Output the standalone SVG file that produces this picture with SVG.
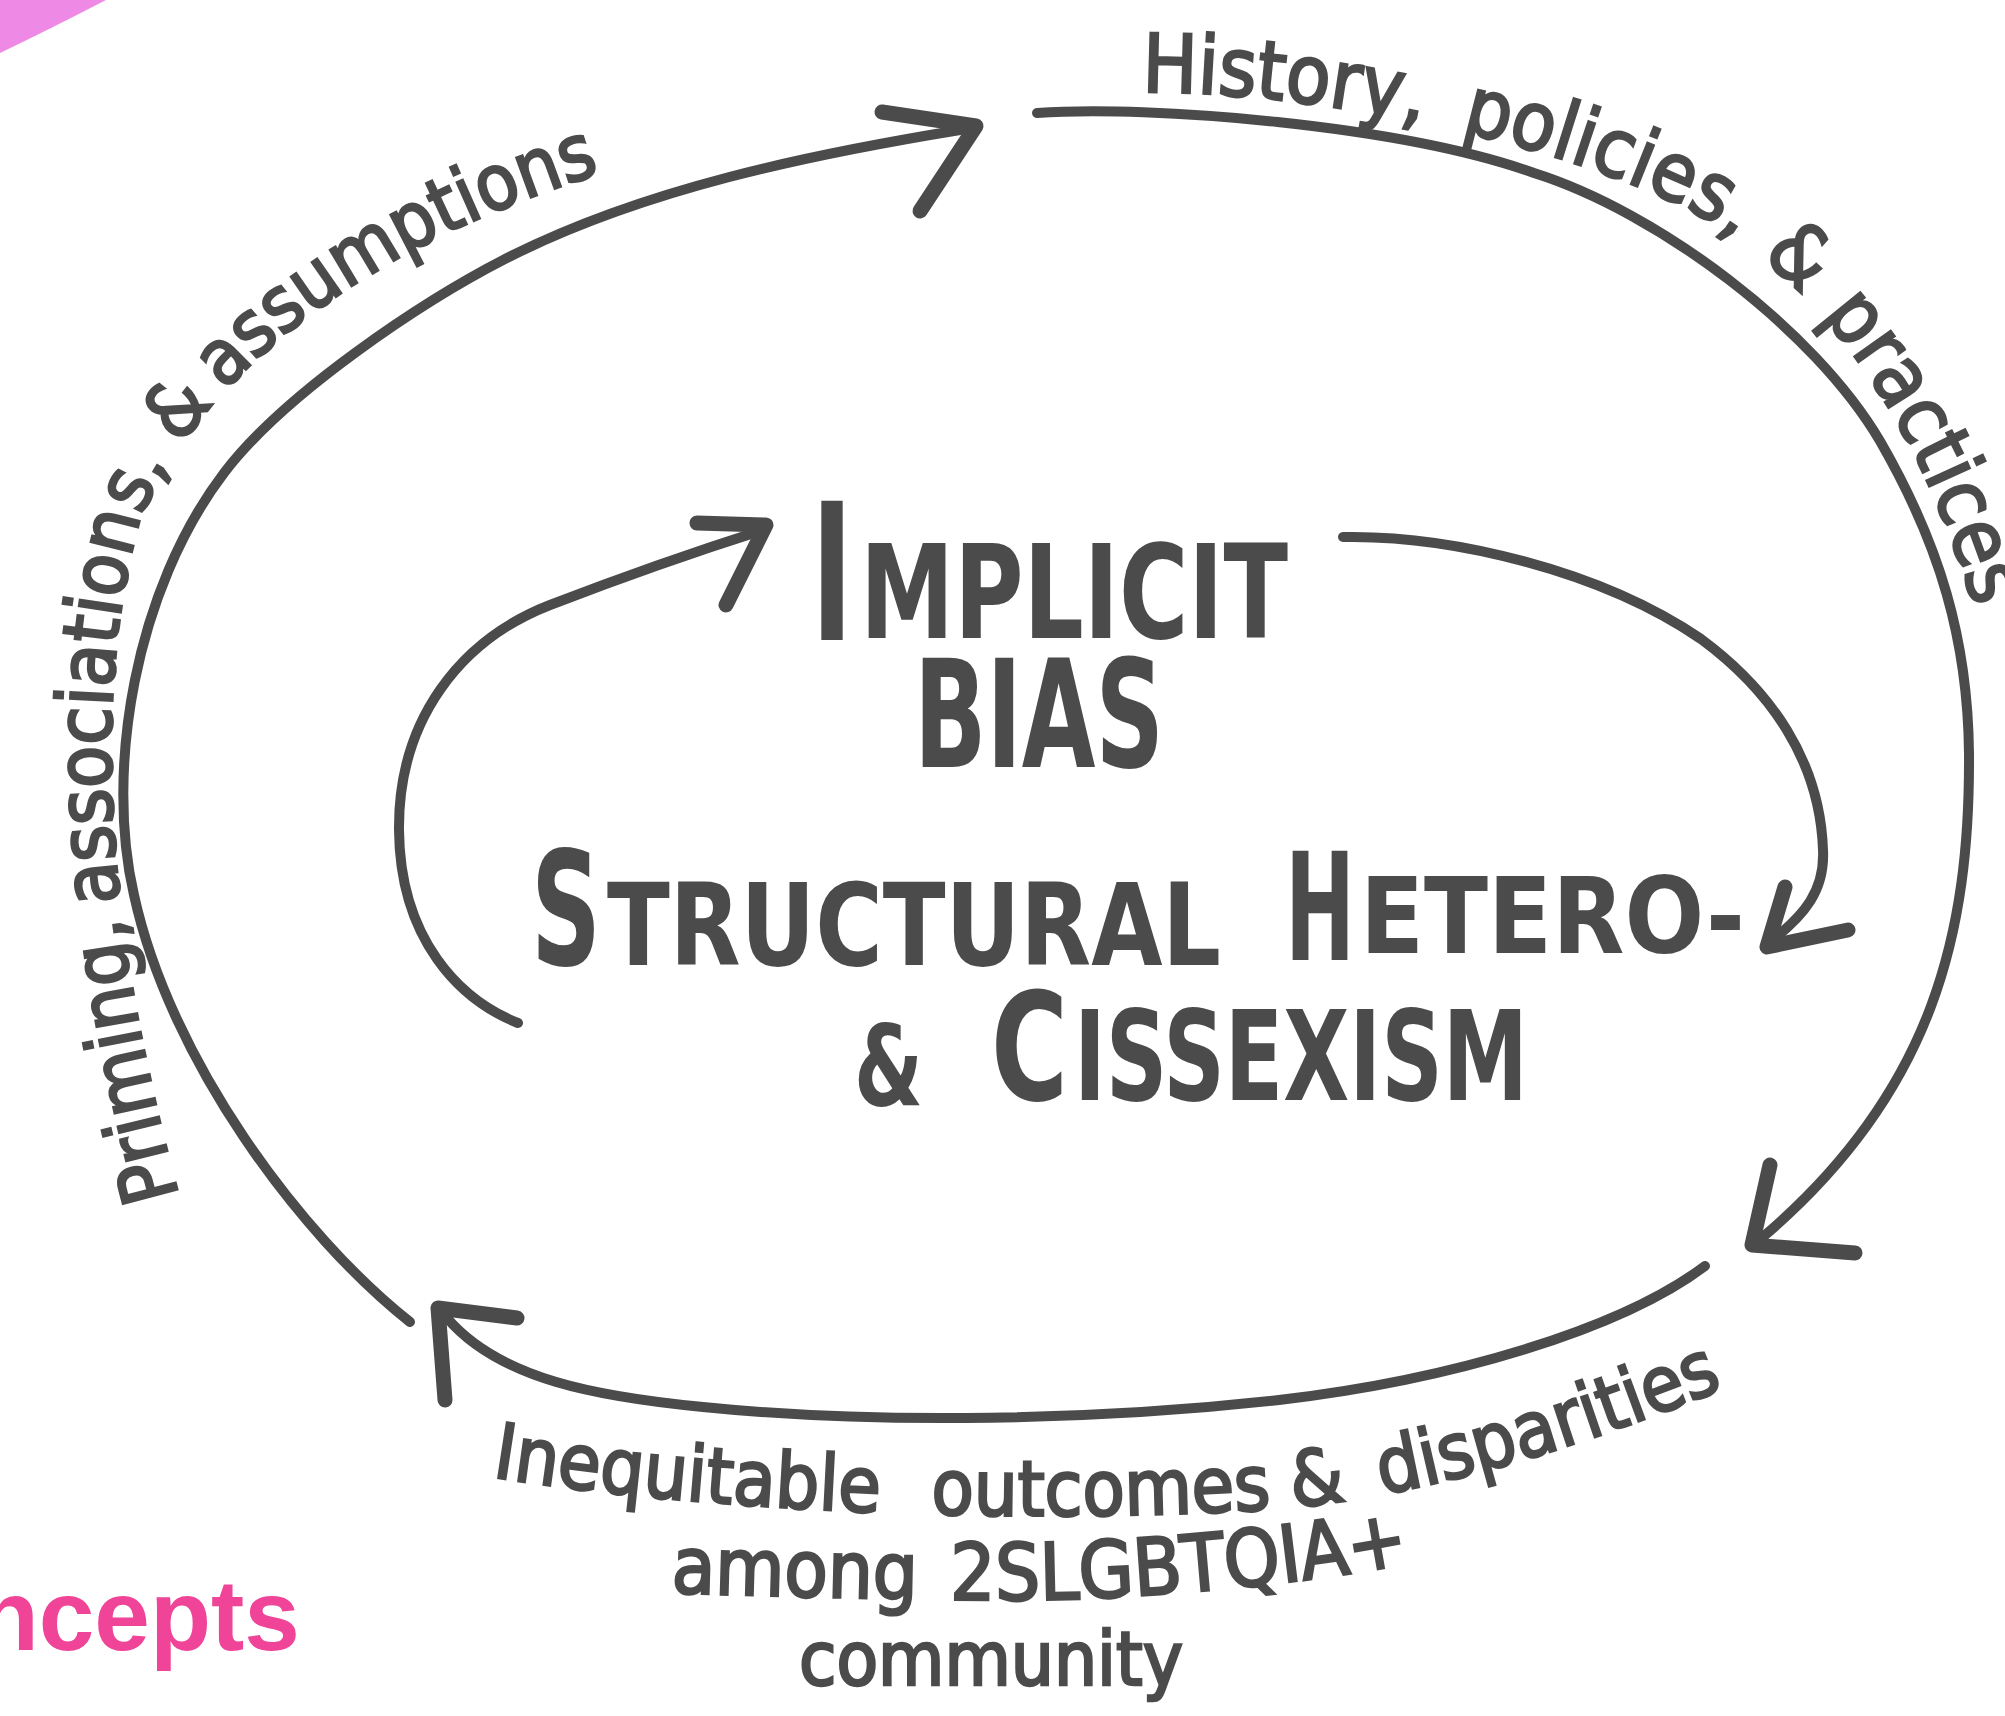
<svg xmlns="http://www.w3.org/2000/svg" width="2005" height="1716" viewBox="0 0 2005 1716">
<defs>
<style>
.ln{fill:none;stroke:#4b4b4b;stroke-width:10;stroke-linecap:round;stroke-linejoin:round}
.ah{fill:none;stroke:#4b4b4b;stroke-width:15;stroke-linecap:round;stroke-linejoin:round}
.big{font-family:"DejaVu Sans Condensed","DejaVu Sans",sans-serif;font-weight:bold;fill:#4b4b4b}
.lbl{font-family:"DejaVu Sans Condensed","DejaVu Sans",sans-serif;fill:#4b4b4b;stroke:#4b4b4b;stroke-width:2.5}
.t81{font-size:81px}
.t77{font-size:77px}
</style>
<path id="pTop" d="M1142,92 C1300,92 1520,130 1680,205 C1818,274 1922,420 1980,628 L1989,658"/>
<path id="pLeft" d="M179,1196 C115,960 85,720 140,520 C210,355 395,235 612,170 L690,146"/>
<path id="pBot1" d="M492,1477 C700,1510 1000,1525 1260,1510 C1400,1502 1560,1455 1715,1392 L1800,1358"/>
<path id="pBot2" d="M671,1593 C850,1598 1000,1603 1100,1598 C1250,1590 1350,1575 1410,1563 L1500,1545"/>
</defs>
<rect width="2005" height="1716" fill="#ffffff"/>
<path d="M0,0 H106 Q48,30 0,53 Z" fill="#ee8ae6"/>
<text x="300" y="1650" text-anchor="end" font-family="Liberation Sans, Arial, sans-serif" font-weight="bold" font-size="100" fill="#ef4498">ncepts</text>

<g id="connectors">
  <path class="ln" d="M410,1322 C300,1235 170,1060 134,895 C105,770 135,590 224,473 C284,394 422,301 511,256 C645,189 807,155 960,130"/>
  <path class="ah" d="M882,112 L976,126 L920,211"/>
  <path class="ln" d="M1037,113 C1150,105 1400,125 1534,173 C1658,212 1814,329 1880,441 C1940,545 1968,640 1969,754 C1970,930 1935,1090 1764,1236"/>
  <path class="ah" d="M1770,1165 L1752,1245 L1855,1253"/>
  <path class="ln" d="M1705,1266 C1620,1330 1450,1380 1279,1400 C1100,1420 880,1425 703,1407 C600,1397 500,1380 447,1318"/>
  <path class="ah" d="M517,1318 L438,1308 L445,1400"/>
  <path class="ln" d="M518,1023 C460,1000 400,940 399,830 C398,720 460,640 550,605 C620,578 700,550 763,530"/>
  <path class="ah" d="M697,523 L766,525 L726,605"/>
  <path class="ln" d="M1343,537 C1450,535 1600,570 1701,639 C1770,690 1820,760 1823,850 C1825,890 1805,915 1770,942"/>
  <path class="ah" d="M1785,887 L1767,947 L1848,930"/>
</g>

<g id="node-implicit-bias">
  <text class="big" x="811" y="640" font-size="190" textLength="42" lengthAdjust="spacingAndGlyphs">I</text>
  <text class="big" x="860" y="638" font-size="130" textLength="428" lengthAdjust="spacingAndGlyphs">MPLICIT</text>
  <text class="big" x="914" y="767" font-size="150" textLength="250" lengthAdjust="spacingAndGlyphs">BIAS</text>
</g>

<g id="node-structural">
  <text class="big" x="531" y="965" font-size="158" textLength="70" lengthAdjust="spacingAndGlyphs">S</text>
  <text class="big" x="607" y="965" font-size="114" textLength="614" lengthAdjust="spacingAndGlyphs">TRUCTURAL</text>
  <text class="big" x="1285" y="960" font-size="150" textLength="70" lengthAdjust="spacingAndGlyphs">H</text>
  <text class="big" x="1360" y="953" font-size="106" textLength="385" lengthAdjust="spacingAndGlyphs">ETERO-</text>
  <text class="big" x="854" y="1105" font-size="112" textLength="69" lengthAdjust="spacingAndGlyphs">&amp;</text>
  <text class="big" x="991" y="1100" font-size="150" textLength="77" lengthAdjust="spacingAndGlyphs">C</text>
  <text class="big" x="1074" y="1100" font-size="124" textLength="454" lengthAdjust="spacingAndGlyphs">ISSEXISM</text>
</g>

<g id="label-top">
  <text class="lbl t81"><textPath href="#pTop">History,</textPath></text>
  <text class="lbl t81"><textPath href="#pTop" startOffset="322">policies,</textPath></text>
  <text class="lbl t81"><textPath href="#pTop" startOffset="650">&amp;</textPath></text>
  <text class="lbl t81"><textPath href="#pTop" startOffset="734">practices</textPath></text>
</g>
<g id="label-left">
  <text class="lbl t77"><textPath href="#pLeft">Priming,</textPath></text>
  <text class="lbl t77"><textPath href="#pLeft" startOffset="300">associations,</textPath></text>
  <text class="lbl t77"><textPath href="#pLeft" startOffset="770">&amp;</textPath></text>
  <text class="lbl t77"><textPath href="#pLeft" startOffset="840">assumptions</textPath></text>
</g>
<g id="label-bottom">
  <text class="lbl t77"><textPath href="#pBot1">Inequitable</textPath></text>
  <text class="lbl t77"><textPath href="#pBot1" startOffset="441">outcomes</textPath></text>
  <text class="lbl t77"><textPath href="#pBot1" startOffset="803">&amp;</textPath></text>
  <text class="lbl t77"><textPath href="#pBot1" startOffset="893">disparities</textPath></text>
  <text class="lbl" font-size="79"><textPath href="#pBot2">among</textPath></text>
  <text class="lbl" font-size="79"><textPath href="#pBot2" startOffset="279">2SLGBTQIA+</textPath></text>
  <text class="lbl" font-size="74" x="799" y="1685" textLength="384" lengthAdjust="spacingAndGlyphs">community</text>
</g>
</svg>
